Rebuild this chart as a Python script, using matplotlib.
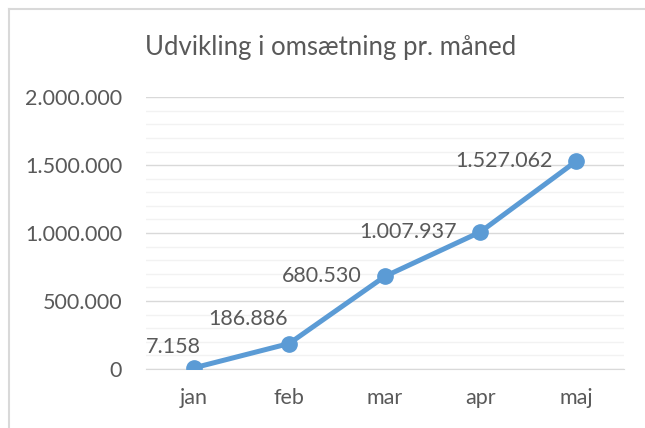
import matplotlib
matplotlib.use("Agg")
import matplotlib.pyplot as plt
from matplotlib.lines import Line2D
from matplotlib.ticker import MultipleLocator, FuncFormatter

months = ["jan", "feb", "mar", "apr", "maj"]
revenue = [7158, 186886, 680530, 1007937, 1527062]
title = "Udvikling i omsætning pr. måned"

# where each data label sits relative to its point (points)
label_offsets = [(5, 15), (-1, 18), (-17, 0), (-17, 0), (-17, 0)]

plt.rcParams["font.family"] = ["Lato", "DejaVu Sans"]
txt = "#595959"
blue = "#5B9BD5"


def dk(v, pos=None):
    return "{:,.0f}".format(v).replace(",", ".")


fig = plt.figure(figsize=(6.45, 4.28), dpi=100)
ax = fig.add_axes([0.226, 0.138, 0.741, 0.635])

x = list(range(len(months)))
ax.plot(x, revenue, color=blue, lw=3.6, marker="o", ms=11, zorder=3,
        solid_capstyle="round")

for i, v in enumerate(revenue):
    ax.annotate(dk(v), (i, v), xytext=label_offsets[i], textcoords="offset points",
                ha="right", va="center", fontsize=15.5, color=txt)

ax.set_xlim(-0.5, len(months) - 0.5)
ax.set_ylim(0, 2000000)
ax.set_xticks(x)
ax.set_xticklabels(months)
ax.yaxis.set_major_locator(MultipleLocator(500000))
ax.yaxis.set_minor_locator(MultipleLocator(100000))
ax.yaxis.set_major_formatter(FuncFormatter(dk))
ax.grid(axis="y", which="major", color="#D9D9D9", lw=1)
ax.grid(axis="y", which="minor", color="#F2F2F2", lw=1)
ax.set_axisbelow(True)
ax.tick_params(which="both", length=0, labelsize=15.5, colors=txt)
ax.tick_params(axis="y", pad=17)
ax.tick_params(axis="x", pad=14)
for s in ["top", "right", "left"]:
    ax.spines[s].set_visible(False)
ax.spines["bottom"].set_color("#D9D9D9")

fig.text(0.513, 0.888, title, ha="center", va="center", fontsize=18.5, color=txt)

# thin frame lines at top and left of the chart area
fig.add_artist(Line2D([9 / 645, 1], [1 - 9 / 428] * 2, color="#D9D9D9", lw=1.5,
                      transform=fig.transFigure))
fig.add_artist(Line2D([9 / 645] * 2, [0, 1 - 9 / 428], color="#D9D9D9", lw=1.5,
                      transform=fig.transFigure))

fig.savefig("out.png", dpi=100)
